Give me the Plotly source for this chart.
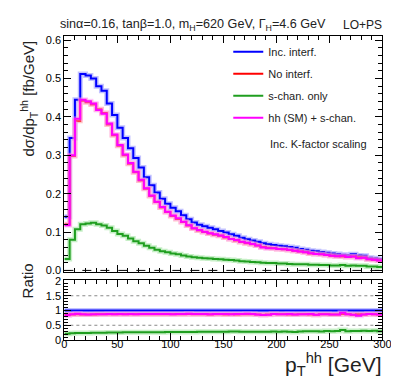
import plotly.graph_objects as go

# pT(hh) binning: 60 bins of 5 GeV, 0-300 GeV
bin_edges = [5 * i for i in range(61)]

inc_interf = [0.140, 0.345, 0.445, 0.512, 0.508, 0.500, 0.480, 0.468, 0.435, 0.405,
              0.372, 0.345, 0.318, 0.293, 0.268, 0.243, 0.222, 0.203, 0.187, 0.174,
              0.163, 0.154, 0.144, 0.133, 0.125, 0.119, 0.115, 0.111, 0.107, 0.103,
              0.099, 0.094, 0.090, 0.085, 0.081, 0.078, 0.075, 0.071, 0.068, 0.066,
              0.064, 0.063, 0.061, 0.059, 0.056, 0.054, 0.051, 0.050, 0.048, 0.046,
              0.044, 0.043, 0.041, 0.040, 0.042, 0.039, 0.038, 0.033, 0.032, 0.030]

no_interf = [0.120, 0.298, 0.390, 0.442, 0.438, 0.432, 0.420, 0.410, 0.380, 0.352,
             0.325, 0.300, 0.278, 0.256, 0.234, 0.213, 0.194, 0.178, 0.164, 0.152,
             0.142, 0.134, 0.126, 0.117, 0.109, 0.104, 0.100, 0.096, 0.093, 0.090,
             0.086, 0.082, 0.078, 0.074, 0.071, 0.068, 0.065, 0.061, 0.059, 0.058,
             0.056, 0.055, 0.053, 0.051, 0.049, 0.047, 0.044, 0.043, 0.042, 0.040,
             0.038, 0.037, 0.036, 0.035, 0.036, 0.034, 0.033, 0.029, 0.028, 0.026]

s_chan_only = [0.030, 0.080, 0.107, 0.120, 0.122, 0.124, 0.120, 0.117, 0.111, 0.103,
               0.095, 0.090, 0.083, 0.076, 0.071, 0.064, 0.059, 0.054, 0.050, 0.047,
               0.044, 0.042, 0.039, 0.036, 0.034, 0.033, 0.032, 0.031, 0.030, 0.029,
               0.028, 0.027, 0.026, 0.024, 0.023, 0.022, 0.021, 0.020, 0.019, 0.019,
               0.018, 0.018, 0.017, 0.016, 0.016, 0.016, 0.015, 0.015, 0.014, 0.014,
               0.013, 0.013, 0.014, 0.012, 0.013, 0.012, 0.012, 0.010, 0.010, 0.009]

sm_plus_s = [0.118, 0.300, 0.395, 0.445, 0.441, 0.435, 0.418, 0.408, 0.383, 0.354,
             0.327, 0.302, 0.280, 0.257, 0.236, 0.214, 0.195, 0.179, 0.165, 0.153,
             0.143, 0.136, 0.127, 0.118, 0.110, 0.105, 0.101, 0.097, 0.094, 0.091,
             0.087, 0.082, 0.079, 0.075, 0.072, 0.069, 0.065, 0.060, 0.058, 0.058,
             0.056, 0.055, 0.054, 0.051, 0.049, 0.047, 0.045, 0.043, 0.042, 0.040,
             0.038, 0.037, 0.038, 0.035, 0.036, 0.032, 0.033, 0.029, 0.028, 0.026]

series = [
    ("Inc. interf.", inc_interf, "#0000ff", "rgba(120,120,255,0.45)"),
    ("No interf.", no_interf, "#ff0000", "rgba(255,130,130,0.45)"),
    ("s-chan. only", s_chan_only, "#1f9e1f", "rgba(130,220,130,0.45)"),
    ("hh (SM) + s-chan.", sm_plus_s, "#ff00ff", "rgba(255,150,255,0.45)"),
]

FONT = "Liberation Sans, Arial, Helvetica, sans-serif"
W, H = 399, 383


def px(v, total):
    return v / total


fig = go.Figure()

for i, (name, vals, col, halo) in enumerate(series):
    ys = vals + [vals[-1]]
    ratio = [v / b for v, b in zip(vals, inc_interf)]
    rs = ratio + [ratio[-1]]
    # light uncertainty-like halo under each line
    fig.add_trace(go.Scatter(x=bin_edges, y=ys, mode="lines", line=dict(color=halo, width=5, shape="hv"),
                             showlegend=False, hoverinfo="skip", xaxis="x", yaxis="y"))
    fig.add_trace(go.Scatter(x=bin_edges, y=ys, mode="lines", name=name, legendgroup=name,
                             line=dict(color=col, width=2, shape="hv"), xaxis="x", yaxis="y"))
    fig.add_trace(go.Scatter(x=bin_edges, y=rs, mode="lines", line=dict(color=halo, width=5, shape="hv"),
                             showlegend=False, hoverinfo="skip", xaxis="x2", yaxis="y2"))
    fig.add_trace(go.Scatter(x=bin_edges, y=rs, mode="lines", showlegend=False,
                             line=dict(color=col, width=2, shape="hv"), xaxis="x2", yaxis="y2"))

axis_common = dict(showline=True, linecolor="black", linewidth=1, mirror="allticks",
                   ticks="inside", tickcolor="black", showgrid=False, zeroline=False,
                   tickfont=dict(family=FONT, size=11, color="black"))

xdom = [px(55, W), px(383, W)]
fig.update_layout(
    width=W, height=H,
    margin=dict(l=0, r=0, t=0, b=0),
    plot_bgcolor="white", paper_bgcolor="white",
    font=dict(family=FONT, color="black"),
    xaxis=dict(domain=xdom, range=[0, 300], anchor="y", showticklabels=False,
               dtick=50, ticklen=7, minor=dict(dtick=10, ticklen=4, ticks="inside", tickcolor="black"),
               **axis_common),
    yaxis=dict(domain=[1 - px(267, H), 1 - px(24, H)], range=[-0.005, 0.610], anchor="x",
               dtick=0.1, ticklen=7, tickformat=".1f",
               minor=dict(dtick=0.02, ticklen=4, ticks="inside", tickcolor="black"),
               **axis_common),
    xaxis2=dict(domain=xdom, range=[0, 300], anchor="y2", matches="x",
                dtick=50, ticklen=7, ticklabelstandoff=-7,
                minor=dict(dtick=10, ticklen=4, ticks="inside", tickcolor="black"),
                **axis_common),
    yaxis2=dict(domain=[1 - px(337, H), 1 - px(275, H)], range=[-0.01, 2.03], anchor="x2",
                tickvals=[0, 0.5, 1, 1.5, 2], ticktext=["0", "0.5", "1", "1.5", "2"], ticklen=7,
                minor=dict(dtick=0.1, ticklen=4, ticks="inside", tickcolor="black"),
                **axis_common),
    legend=dict(x=px(224, W), y=1 - px(25, H), xanchor="left", yanchor="top",
                bgcolor="rgba(0,0,0,0)", font=dict(family=FONT, size=11, color="#222"),
                tracegroupgap=3, itemwidth=30),
)

fig.add_hline(y=0, line=dict(color="black", width=1, dash="dash"), xref="x", yref="y")
for g in [0.5, 1.0, 1.5]:
    fig.add_shape(type="line", xref="x2 domain", yref="y2", x0=0, x1=1, y0=g, y1=g,
                  line=dict(color="#888", width=1, dash="dot"), layer="below")

annots = [
    dict(text="sinα=0.16, tanβ=1.0, m<sub>H</sub>=620 GeV, Γ<sub>H</sub>=4.6 GeV",
         x=px(48, W), y=1 - px(12, H), xanchor="left", yanchor="middle", size=12.6),
    dict(text="LO+PS", x=px(385, W), y=1 - px(12, H), xanchor="right", yanchor="middle", size=12),
    dict(text="Inc. K-factor scaling", x=px(265, W), y=1 - px(135, H), xanchor="left",
         yanchor="middle", size=11),
    dict(text="p<sub>T</sub><sup>hh</sup> [GeV]", x=px(385, W), y=1 - px(362, H),
         xanchor="right", yanchor="middle", size=21),
]
for a in annots:
    fig.add_annotation(text=a["text"], xref="paper", yref="paper", x=a["x"], y=a["y"],
                       xanchor=a["xanchor"], yanchor=a["yanchor"], showarrow=False,
                       font=dict(family=FONT, size=a["size"], color="#222"))

fig.add_annotation(text="dσ/dp<sub>T</sub><sup>hh</sup> [fb/GeV]", textangle=-90,
                   xref="paper", yref="paper", x=px(5, W), y=1 - px(26, H),
                   xanchor="left", yanchor="top", showarrow=False,
                   font=dict(family=FONT, size=15, color="#222"))
fig.add_annotation(text="Ratio", textangle=-90, xref="paper", yref="paper",
                   x=px(6, W), y=1 - px(276, H), xanchor="left", yanchor="middle",
                   showarrow=False, font=dict(family=FONT, size=15, color="#222"))

fig.write_html("out.html")
